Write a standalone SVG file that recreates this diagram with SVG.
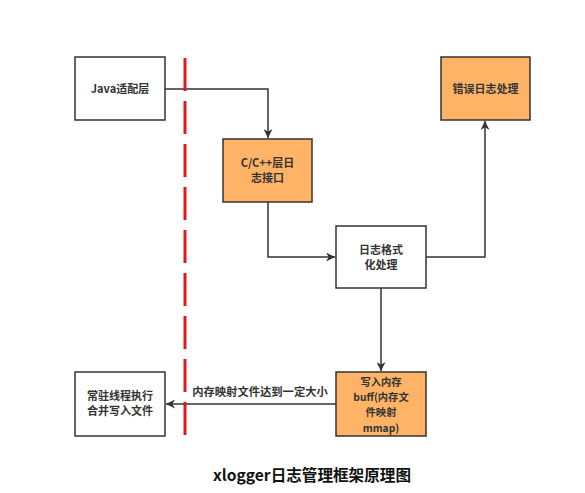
<svg xmlns="http://www.w3.org/2000/svg" width="585" height="493" viewBox="0 0 585 493">
<defs>
<style>
.box{stroke:#333;stroke-width:1.5;fill:#fff}
.org{fill:#ffb366}
.t{font-family:"Noto Sans CJK SC","Liberation Sans",sans-serif;font-weight:bold;font-size:11px;fill:#333;text-anchor:middle}
.s{font-size:10.3px}
.c{fill:none;stroke:#333;stroke-width:1.5}
</style>
<marker id="ah" viewBox="0 0 10 10" refX="10" refY="5" markerWidth="9" markerHeight="9" markerUnits="userSpaceOnUse" orient="auto">
<path d="M0,0 L10,5 L0,10 L3,5 Z" fill="#333"/>
</marker>
</defs>
<rect width="585" height="493" fill="#fff"/>
<g id="connectors">
<path class="c" d="M165,89 H268 V138" marker-end="url(#ah)"/>
<path class="c" d="M268,202 V257 H335" marker-end="url(#ah)"/>
<path class="c" d="M426,257 H485 V121" marker-end="url(#ah)"/>
<path class="c" d="M381,288 V371" marker-end="url(#ah)"/>
<path class="c" d="M336,404 H166" marker-end="url(#ah)"/>
<text class="t" x="260" y="396" style="font-size:11.3px">内存映射文件达到一定大小</text>
</g>
<line x1="185" y1="58" x2="185" y2="435" stroke="#dd1a1a" stroke-width="3" stroke-dasharray="33 10"/>
<g id="java"><rect class="box" x="75" y="57" width="90" height="63"/><text class="t" x="120" y="93">Java适配层</text></g>
<g id="cpp"><rect class="box org" x="223" y="139" width="89" height="63"/><text class="t" x="267.500" y="167">C/C++层日</text><text class="t" x="267.500" y="182">志接口</text></g>
<g id="err"><rect class="box org" x="441" y="57" width="89" height="63"/><text class="t" x="485.500" y="93">错误日志处理</text></g>
<g id="fmt"><rect class="box" x="336" y="226" width="90" height="62"/><text class="t" x="381" y="254">日志格式</text><text class="t" x="381" y="269">化处理</text></g>
<g id="mem"><rect class="box org" x="336" y="372" width="90" height="64"/><text class="t s" x="381" y="386">写入内存</text><text class="t s" x="381" y="401.200">buff(内存文</text><text class="t s" x="381" y="416.400">件映射</text><text class="t s" x="381" y="431.600">mmap)</text></g>
<g id="thread"><rect class="box" x="75" y="372" width="90" height="64"/><text class="t" x="120" y="400">常驻线程执行</text><text class="t" x="120" y="415">合并写入文件</text></g>
<text x="312" y="481" style="font-family:'Noto Sans CJK SC','Liberation Sans',sans-serif;font-weight:bold;font-size:15.6px;fill:#111;text-anchor:middle">xlogger日志管理框架原理图</text>
</svg>
